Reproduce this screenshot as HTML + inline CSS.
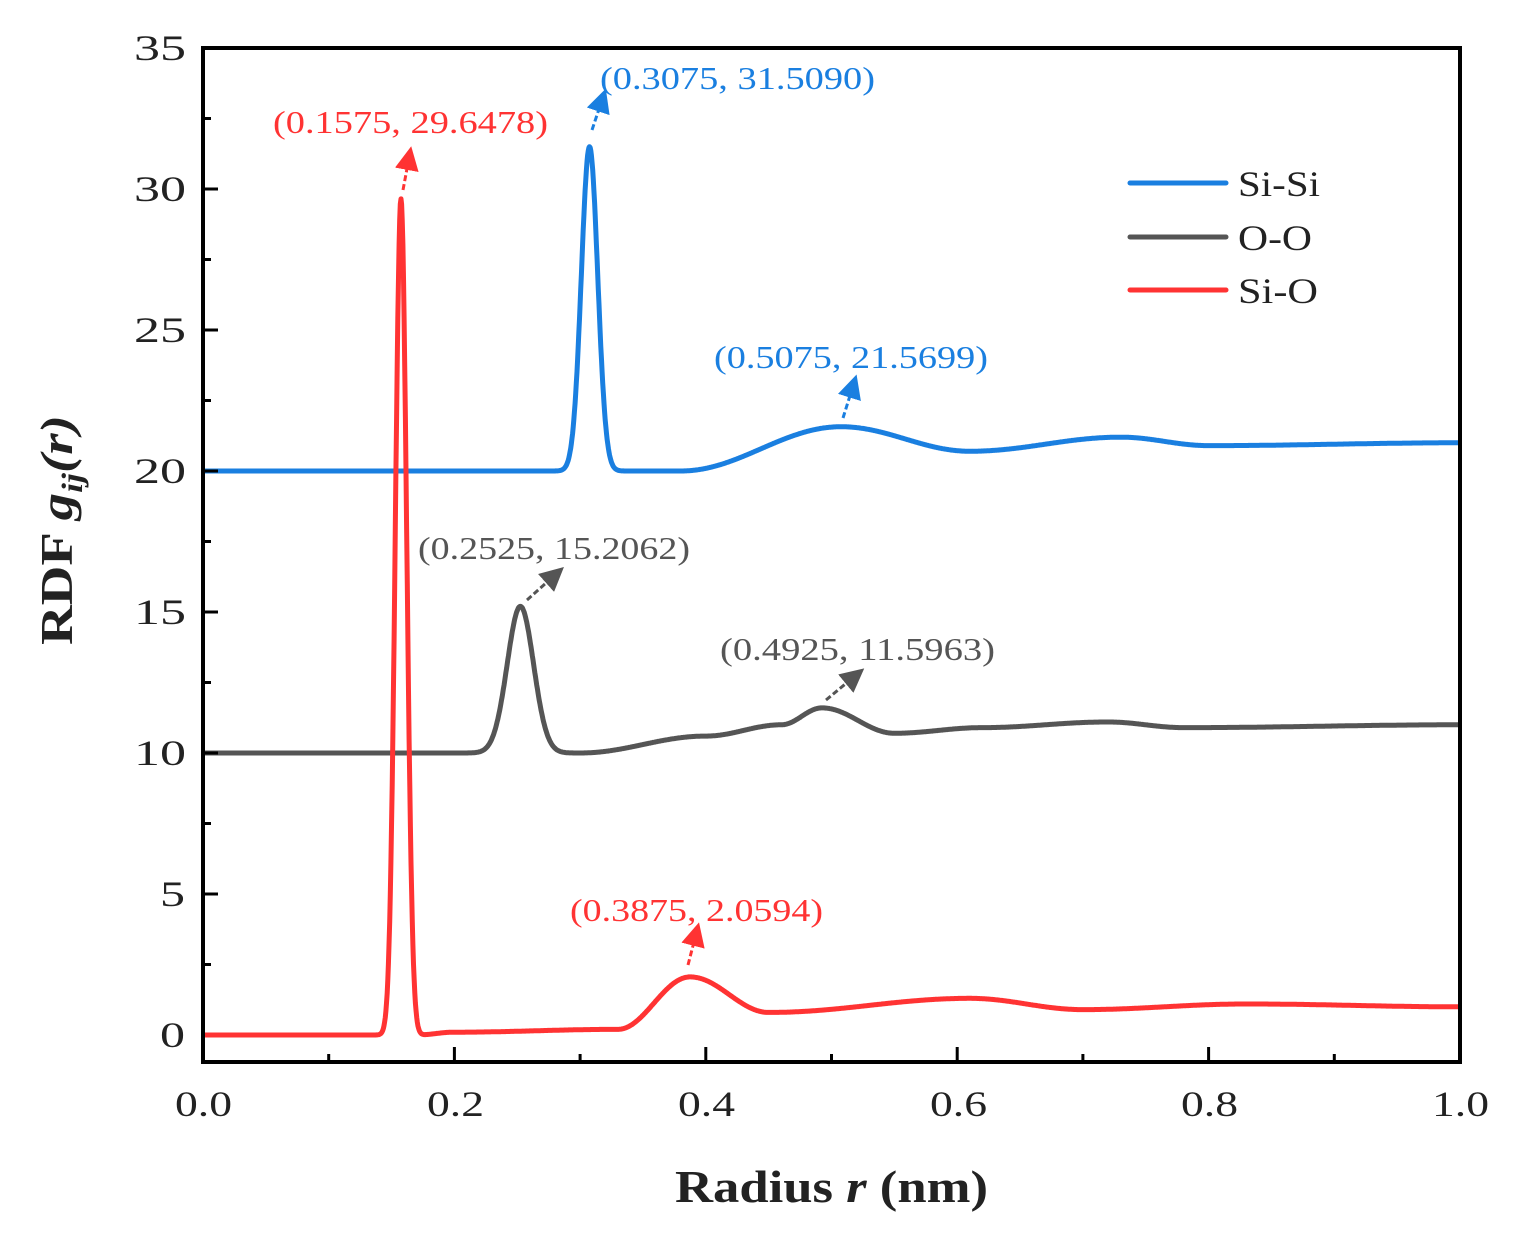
<!DOCTYPE html>
<html><head><meta charset="utf-8"><style>
body{margin:0;background:#fff}
svg text{font-family:"Liberation Serif",serif}
</style></head><body>
<svg id="s" width="1516" height="1244" xmlns="http://www.w3.org/2000/svg">
<defs>
<marker id="ab" markerWidth="8" markerHeight="8" refX="4" refY="4" orient="auto"><path d="M0,0 L8,4 L0,8 z" fill="#1a7fe0"/></marker>
<marker id="ag" markerWidth="8" markerHeight="8" refX="4" refY="4" orient="auto"><path d="M0,0 L8,4 L0,8 z" fill="#555"/></marker>
<marker id="ar" markerWidth="8" markerHeight="8" refX="4" refY="4" orient="auto"><path d="M0,0 L8,4 L0,8 z" fill="#f33"/></marker>
</defs>
<g id="curves" fill="none" stroke-width="5" stroke-linejoin="round"></g>
<rect x="203" y="48" width="1257" height="1014" fill="none" stroke="#000" stroke-width="4"/>
<g id="ticks" stroke="#000" stroke-width="3"></g>
<g font-size="36" fill="#222">
<text x="175" y="1116" textLength="57" lengthAdjust="spacingAndGlyphs">0.0</text><text x="427" y="1116" textLength="57" lengthAdjust="spacingAndGlyphs">0.2</text><text x="678" y="1116" textLength="57" lengthAdjust="spacingAndGlyphs">0.4</text><text x="930" y="1116" textLength="57" lengthAdjust="spacingAndGlyphs">0.6</text><text x="1181" y="1116" textLength="57" lengthAdjust="spacingAndGlyphs">0.8</text><text x="1432" y="1116" textLength="57" lengthAdjust="spacingAndGlyphs">1.0</text>
</g>
<g font-size="36" fill="#222">
<text x="160" y="1047" textLength="25" lengthAdjust="spacingAndGlyphs">0</text><text x="160" y="906" textLength="25" lengthAdjust="spacingAndGlyphs">5</text>
<text x="134" y="765" textLength="52" lengthAdjust="spacingAndGlyphs">10</text><text x="134" y="624" textLength="52" lengthAdjust="spacingAndGlyphs">15</text><text x="134" y="483" textLength="52" lengthAdjust="spacingAndGlyphs">20</text><text x="134" y="342" textLength="52" lengthAdjust="spacingAndGlyphs">25</text><text x="134" y="201" textLength="52" lengthAdjust="spacingAndGlyphs">30</text><text x="134" y="60" textLength="52" lengthAdjust="spacingAndGlyphs">35</text>
</g>
<text x="675" y="1202" font-size="46" font-weight="bold" fill="#222" textLength="313" lengthAdjust="spacingAndGlyphs">Radius <tspan font-style="italic">r</tspan> (nm)</text>
<text transform="translate(72,645) rotate(-90)" font-size="46" font-weight="bold" fill="#222" textLength="230" lengthAdjust="spacingAndGlyphs">RDF <tspan font-style="italic">g</tspan><tspan font-style="italic" font-size="30" dy="10">ij</tspan><tspan font-style="italic" dy="-10">(r)</tspan></text>
<g stroke-width="5" stroke-linecap="round">
<line x1="1130" y1="183" x2="1226" y2="183" stroke="#1a7fe0"/>
<line x1="1130" y1="237" x2="1226" y2="237" stroke="#555"/>
<line x1="1130" y1="290" x2="1226" y2="290" stroke="#f33"/>
</g>
<g font-size="36" fill="#222">
<text x="1238" y="196" textLength="82" lengthAdjust="spacingAndGlyphs">Si-Si</text><text x="1238" y="250" textLength="74" lengthAdjust="spacingAndGlyphs">O-O</text><text x="1238" y="303" textLength="80" lengthAdjust="spacingAndGlyphs">Si-O</text>
</g>
<g font-size="32">
<text x="273" y="133" fill="#f33" textLength="275" lengthAdjust="spacingAndGlyphs">(0.1575, 29.6478)</text>
<text x="600" y="89" fill="#1a7fe0" textLength="275" lengthAdjust="spacingAndGlyphs">(0.3075, 31.5090)</text>
<text x="714" y="368" fill="#1a7fe0" textLength="274" lengthAdjust="spacingAndGlyphs">(0.5075, 21.5699)</text>
<text x="418" y="559" fill="#555" textLength="272" lengthAdjust="spacingAndGlyphs">(0.2525, 15.2062)</text>
<text x="720" y="660" fill="#555" textLength="275" lengthAdjust="spacingAndGlyphs">(0.4925, 11.5963)</text>
<text x="570" y="921" fill="#f33" textLength="253" lengthAdjust="spacingAndGlyphs">(0.3875, 2.0594)</text>
</g>
<g stroke-width="3" stroke-dasharray="6,3">
<line x1="403" y1="190" x2="409" y2="158" stroke="#f33" marker-end="url(#ar)"/>
<line x1="592" y1="130" x2="602" y2="100" stroke="#1a7fe0" marker-end="url(#ab)"/>
<line x1="843" y1="418" x2="853" y2="386" stroke="#1a7fe0" marker-end="url(#ab)"/>
<line x1="527" y1="600" x2="555" y2="575" stroke="#555" marker-end="url(#ag)"/>
<line x1="826" y1="700" x2="855" y2="676" stroke="#555" marker-end="url(#ag)"/>
<line x1="688" y1="965" x2="696" y2="934" stroke="#f33" marker-end="url(#ar)"/>
</g>
</svg>
<script>
var X=r=>203+1257*r, Y=g=>1035-28.2*g;
function g(r,m,s,a){return a*Math.exp(-((r-m)*(r-m))/(2*s*s));}
function interp(r,pts){if(r<=pts[0][0])return pts[0][1];for(var i=1;i<pts.length;i++){if(r<=pts[i][0]){var t=(r-pts[i-1][0])/(pts[i][0]-pts[i-1][0]);t=(1-Math.cos(Math.PI*t))/2;return pts[i-1][1]+t*(pts[i][1]-pts[i-1][1]);}}return pts[pts.length-1][1];}
var series=[
 {c:"#1a7fe0",f:r=>20+g(r,0.3075,0.0065,11.5)+interp(r,[[0,0],[0.38,0],[0.5075,1.57],[0.61,0.7],[0.73,1.2],[0.8,0.9],[1,1.0]])},
 {c:"#555",f:r=>10+g(r,0.2525,0.0105,5.2)+interp(r,[[0,0],[0.3,0],[0.4,0.6],[0.46,1.0],[0.4925,1.6],[0.55,0.7],[0.62,0.9],[0.72,1.1],[0.78,0.9],[1,1.0]])},
 {c:"#f33",f:r=>g(r,0.1575,0.0045,29.65)+interp(r,[[0,0],[0.17,0],[0.2,0.1],[0.33,0.2],[0.3875,2.06],[0.45,0.8],[0.61,1.3],[0.7,0.9],[0.83,1.1],[1,1.0]])}
];
var G=document.getElementById("curves"),ns="http://www.w3.org/2000/svg";
series.forEach(s=>{var d="";for(var i=0;i<=2000;i++){var r=i/2000;d+=(i?"L":"M")+X(r).toFixed(1)+","+Y(s.f(r)).toFixed(1);}var p=document.createElementNS(ns,"path");p.setAttribute("d",d);p.setAttribute("stroke",s.c);G.appendChild(p);});
var T=document.getElementById("ticks");
function ln(a,b,c,d){var l=document.createElementNS(ns,"line");l.setAttribute("x1",a);l.setAttribute("y1",b);l.setAttribute("x2",c);l.setAttribute("y2",d);T.appendChild(l);}
for(var i=1;i<10;i++){var x=X(i/10);ln(x,1062,x,1062-(i%2?8:15));}
for(var v=2.5;v<35;v+=2.5){var y=Y(v);ln(203,y,203+(v%5?8:15),y);}
</script>
</body></html>
